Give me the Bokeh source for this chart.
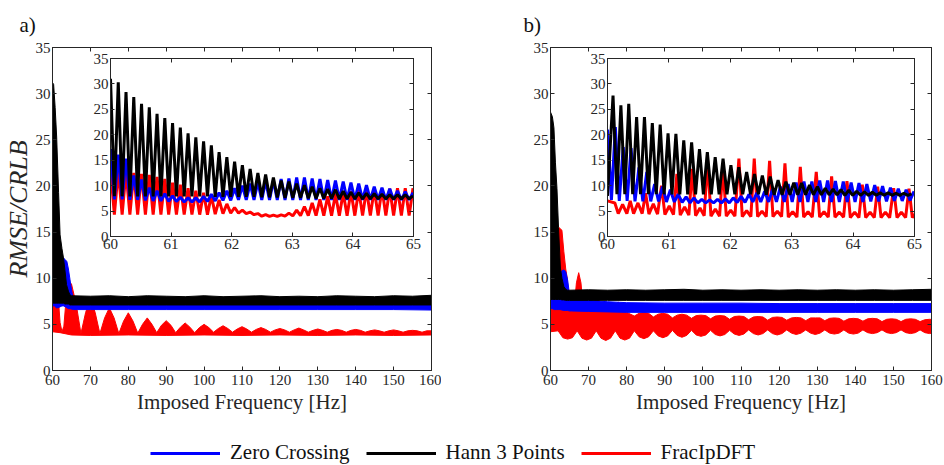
import numpy as np
from bokeh.plotting import figure
from bokeh.models import Range1d, FixedTicker, LinearAxis, Legend, LegendItem
from bokeh.layouts import column, row
from bokeh.embed import file_html
from bokeh.resources import INLINE

FONT = "Liberation Serif"
AX = "#262626"
BLUE, BLACK, RED = "#0000ff", "#000000", "#ff0000"

# ---------------- tick labels ----------------
main_xticks = [60, 70, 80, 90, 100, 110, 120, 130, 140, 150, 160]
yticks = [0, 5, 10, 15, 20, 25, 30, 35]
inset_xticks = [60, 61, 62, 63, 64, 65]
series_names = ["Zero Crossing", "Hann 3 Points", "FracIpDFT"]

# ---------------- panel a) main plot envelopes ----------------
black_a_x = [60.0, 60.3, 60.7, 61.1, 61.6, 62.0, 62.5, 62.9, 63.3, 63.7, 64.2, 64.6, 65.0,
             70, 75, 80, 85, 90, 95, 100, 105, 110, 115, 120, 125, 130, 135, 140, 145, 150, 155, 160]
black_a_hi = [31.2, 31.0, 28.5, 25.3, 19.3, 14.7, 13.2, 12.2, 10.8, 9.3, 8.6, 8.2, 8.1,
              8.05, 8.1, 8.0, 8.1, 8.05, 8.0, 8.1, 8.0, 8.05, 8.1, 8.0, 8.05, 8.0, 8.1, 8.05, 8.0, 8.1, 8.05, 8.15]
black_a_lo = [7.3, 7.3, 7.3, 7.3, 7.3, 7.3, 7.3, 7.3, 7.2, 7.2, 7.2, 7.1, 7.1,
              7.1, 7.1, 7.1, 7.1, 7.1, 7.1, 7.1, 7.1, 7.1, 7.1, 7.1, 7.1, 7.1, 7.1, 7.1, 7.1, 7.1, 7.1, 7.1]

blue_a_x = [60.0, 60.5, 61.0, 61.5, 62.0, 62.5, 62.9, 63.4, 63.8, 64.2, 64.6, 65.1, 65.6, 66.5,
            70, 80, 90, 100, 110, 120, 130, 140, 150, 160]
blue_a_hi = [17.2, 12.0, 8.5, 8.0, 9.5, 11.0, 12.2, 12.0, 11.8, 11.0, 9.9, 8.5, 7.6, 7.4,
             7.35, 7.3, 7.3, 7.3, 7.3, 7.3, 7.3, 7.3, 7.3, 7.35]
blue_a_lo = [7.0, 7.0, 6.8, 6.8, 6.9, 7.0, 7.0, 6.9, 6.8, 6.7, 6.7, 6.65, 6.6, 6.6,
             6.6, 6.6, 6.6, 6.6, 6.6, 6.6, 6.6, 6.6, 6.6, 6.55]

red_a_head_x = [60.0, 60.5, 61.0, 61.5, 62.0, 62.5, 63.0, 63.5, 64.0, 64.5]
red_a_head_hi = [13.3, 12.3, 10.8, 8.0, 5.2, 4.2, 4.8, 7.3, 8.8, 9.3]
red_a_lobe_c = [65, 70, 75, 80, 85, 90, 95, 100, 105, 110, 115, 120, 125, 130, 135, 140, 145, 150, 155, 160]
red_a_lobe_peak = [9.4, 7.8, 6.8, 6.25, 5.7, 5.4, 5.15, 5.0, 4.85, 4.75, 4.65, 4.55, 4.6, 4.5,
                   4.45, 4.45, 4.4, 4.4, 4.35, 4.3]
red_a_lobe_mid = [7.2, 6.3, 5.7, 5.35, 5.0, 4.9, 4.7, 4.65, 4.55, 4.5, 4.45, 4.4, 4.4, 4.35,
                  4.35, 4.35, 4.3, 4.3, 4.3, 4.3]
red_a_lobe_valley = [4.0, 4.0, 4.0, 4.05, 4.1, 4.1, 4.1, 4.15, 4.15, 4.15, 4.15, 4.15, 4.15,
                     4.15, 4.15, 4.15, 4.15, 4.15, 4.15]
red_a_lo_x = [60, 62, 65, 70, 80, 90, 100, 110, 120, 130, 140, 150, 160]
red_a_lo = [4.2, 4.1, 3.85, 3.8, 3.85, 3.8, 3.85, 3.8, 3.85, 3.8, 3.85, 3.8, 3.85]

# ---------------- panel b) main plot envelopes ----------------
black_b_x = [60.0, 60.5, 60.9, 61.3, 61.7, 62.1, 62.6, 63.0, 63.5, 64.0, 64.4, 65.0,
             70, 75, 80, 85, 90, 95, 100, 105, 110, 115, 120, 125, 130, 135, 140, 145, 150, 155, 160]
black_b_hi = [28.0, 27.5, 26.3, 22.5, 19.7, 15.5, 11.1, 10.0, 9.1, 8.8, 8.7, 8.7,
              8.75, 8.7, 8.75, 8.7, 8.75, 8.8, 8.7, 8.75, 8.7, 8.75, 8.7, 8.75, 8.7, 8.75, 8.7, 8.75, 8.7, 8.75, 8.8]
black_b_lo = [7.7, 7.7, 7.7, 7.7, 7.7, 7.7, 7.7, 7.65, 7.65, 7.6, 7.6, 7.6,
              7.6, 7.6, 7.6, 7.6, 7.6, 7.6, 7.6, 7.6, 7.6, 7.6, 7.6, 7.6, 7.6, 7.6, 7.6, 7.6, 7.6, 7.6, 7.6]

blue_b_x = [60, 60.5, 61, 61.5, 62, 62.5, 63, 63.5, 64, 64.5, 65, 65.5, 70, 75, 80, 90, 100,
            110, 120, 130, 140, 150, 160]
blue_b_hi = [21.5, 18.0, 13.0, 9.5, 9.0, 10.3, 10.8, 10.9, 10.7, 9.8, 8.2, 7.8, 7.6, 7.45,
             7.35, 7.3, 7.3, 7.3, 7.25, 7.25, 7.25, 7.25, 7.25]
blue_b_lo = [6.7, 6.7, 6.6, 6.6, 6.6, 6.6, 6.55, 6.5, 6.5, 6.5, 6.45, 6.45, 6.4, 6.35, 6.3,
             6.3, 6.3, 6.3, 6.3, 6.3, 6.3, 6.3, 6.3]

# upper edge of FracIpDFT in b): spikes up to 80 Hz, then rounded bulges every 5 Hz
red_b_hi_head_x = [60.0, 60.5, 61.0, 61.5, 62.2, 63.0, 63.5, 64.0, 64.4, 64.8, 65.5, 66.3, 66.8, 67.4,
                   68.0, 68.5, 69.5, 71.0, 71.8, 72.4, 73.2, 74.5, 76.5, 77.2, 77.8, 78.5, 79.5]
red_b_hi_head = [8.0, 10.0, 12.0, 14.0, 15.5, 15.2, 12.9, 11.0, 10.0, 7.5, 6.6, 7.2, 9.5, 10.6,
                 9.5, 7.2, 6.6, 6.5, 7.8, 8.0, 7.0, 6.5, 6.4, 7.2, 7.4, 6.3, 6.4]
red_b_hi_pinch_x = [82, 87, 92, 97, 102, 107, 112, 117, 122, 127, 132, 137, 142, 147, 152, 157]
red_b_hi_pinch = [5.9, 5.8, 5.7, 5.65, 5.6, 5.55, 5.5, 5.45, 5.45, 5.4, 5.4, 5.35, 5.35, 5.3, 5.3, 5.3]
red_b_hi_shoulder = [6.2, 6.1, 6.0, 5.95, 5.9, 5.85, 5.8, 5.75, 5.7, 5.7, 5.65, 5.6, 5.6, 5.55, 5.55, 5.5]
red_b_hi_bulge = [6.3, 6.2, 6.1, 6.0, 5.95, 5.9, 5.85, 5.8, 5.75, 5.7, 5.7, 5.65, 5.65, 5.6, 5.6, 5.55]
red_b_hi_end = (160.0, 5.5)
# lower edge: narrow pinches and rounded dips every 5 Hz
red_b_lo_pinch_x = [62, 67, 72, 77, 82, 87, 92, 97, 102, 107, 112, 117, 122, 127, 132, 137, 142, 147, 152, 157]
red_b_lo_pinch = [4.3, 4.3, 4.3, 4.3, 4.3, 4.3, 4.35, 4.35, 4.35, 4.35, 4.4, 4.4, 4.4, 4.4, 4.4,
                  4.4, 4.4, 4.4, 4.4, 4.4]
red_b_lo_shoulder = [3.55, 3.5, 3.5, 3.5, 3.65, 3.75, 3.8, 3.85, 3.9, 3.95, 4.0, 4.0, 4.05, 4.05,
                     4.05, 4.05, 4.1, 4.1, 4.1, 4.1]
red_b_lo_dip = [3.4, 3.3, 3.25, 3.3, 3.45, 3.55, 3.6, 3.7, 3.75, 3.8, 3.85, 3.85, 3.9, 3.9,
                3.95, 3.95, 4.0, 4.0, 4.0, 4.0]
red_b_lo_start, red_b_lo_end = 4.2, 4.2
bead_offsets = [1.25, 2.5, 3.75]   # shoulder, extreme, shoulder (Hz after each pinch)

# ---------------- insets: oscillation extrema (60-65 Hz) ----------------
osc_half_period = 0.064   # half of the ~0.128 Hz oscillation period

black_a_pk = [31.0, 30.3, 28.4, 27.4, 26.1, 25.4, 24.1, 23.3, 22.3, 21.4, 20.3, 19.5, 18.7, 17.9,
              16.6, 15.6, 14.7, 14.0, 13.3, 12.5, 12.2, 11.6, 11.0, 10.8, 10.4, 10.1, 9.8, 9.5,
              9.3, 9.2, 8.9, 8.7, 8.6, 8.5, 8.4, 8.3, 8.2, 8.2, 8.2, 8.0]
black_a_tr = [7.9, 7.9, 7.9, 7.9, 7.9, 7.9, 7.9, 7.9, 7.9, 7.9, 7.9, 7.9, 7.9, 7.8, 7.8, 7.8,
              7.8, 7.8, 7.8, 7.7, 7.7, 7.7, 7.6, 7.6, 7.6, 7.5, 7.5, 7.5, 7.5, 7.4, 7.4, 7.4,
              7.4, 7.4, 7.4, 7.4, 7.4, 7.4, 7.4]
blue_a_pk = [17.2, 16.1, 15.3, 12.0, 11.2, 9.6, 9.0, 8.4, 8.0, 7.7, 7.6, 7.6, 7.9, 8.3, 8.6,
             9.0, 9.5, 10.0, 10.4, 10.7, 10.9, 11.0, 11.3, 11.4, 11.6, 11.6, 11.4, 11.3, 11.1,
             11.0, 10.8, 10.6, 10.4, 10.1, 9.8, 9.6, 9.4, 9.0, 8.8, 8.6]
blue_a_tr = [7.3, 7.3, 7.2, 7.2, 7.1, 7.0, 7.0, 6.9, 6.9, 6.8, 6.8, 6.8, 6.9, 7.0, 7.1, 7.1,
             7.2, 7.2, 7.2, 7.2, 7.2, 7.2, 7.2, 7.2, 7.2, 7.2, 7.2, 7.2, 7.2, 7.2, 7.2, 7.2,
             7.2, 7.2, 7.2, 7.2, 7.2, 7.2, 7.2]
red_a_pk = [13.3, 13.0, 12.8, 12.5, 12.3, 12.1, 11.7, 11.3, 10.6, 10.2, 9.5, 9.0, 8.6, 8.0,
            7.2, 6.4, 5.7, 5.2, 4.8, 4.5, 4.3, 4.2, 4.25, 4.6, 5.2, 5.9, 6.6, 7.3, 7.9, 8.3,
            8.6, 8.9, 9.1, 9.2, 9.3, 9.4, 9.4, 9.5, 9.5, 9.5]
red_a_tr = [4.3, 4.3, 4.3, 4.3, 4.3, 4.3, 4.3, 4.3, 4.3, 4.3, 4.3, 4.3, 4.3, 4.4, 4.5, 4.6,
            4.6, 4.5, 4.3, 4.0, 3.95, 3.95, 4.0, 4.05, 4.1, 4.1, 4.1, 4.1, 4.1, 4.1, 4.1, 4.1,
            4.1, 4.1, 4.1, 4.1, 4.1, 4.1, 4.1]

black_b_start = (60.0, 8.0)
black_b_first_peak = 60.09
black_b_pk = [27.7, 25.8, 26.1, 23.5, 23.5, 22.3, 22.0, 20.3, 20.2, 18.9, 18.5, 17.2, 16.6,
              15.6, 15.3, 14.0, 13.6, 12.7, 12.3, 12.0, 11.8, 11.1, 10.8, 10.6, 10.5, 10.1,
              9.8, 9.5, 9.3, 9.2, 9.1, 8.9, 8.8, 8.7, 8.6, 8.6, 8.5, 8.5, 8.4]
black_b_tr = [8.3, 8.3, 8.3, 8.3, 8.3, 8.3, 8.3, 8.3, 8.3, 8.3, 8.3, 8.3, 8.3, 8.3, 8.3, 8.3,
              8.3, 8.3, 8.3, 8.2, 8.2, 8.2, 8.2, 8.2, 8.2, 8.2, 8.2, 8.2, 8.2, 8.1, 8.1, 8.1,
              8.1, 8.1, 8.1, 8.1, 8.1, 8.1]
blue_b_pk = [21.0, 21.5, 17.6, 17.4, 13.6, 12.7, 10.3, 9.8, 9.2, 8.3, 7.8, 7.6, 7.3, 7.2, 7.3,
             7.4, 7.6, 7.9, 8.3, 8.6, 8.9, 9.3, 9.8, 10.3, 10.6, 10.8, 10.8, 11.0, 11.0, 10.9,
             10.8, 10.6, 10.5, 10.3, 10.1, 9.9, 9.6, 9.4, 9.2, 8.9]
blue_b_tr = [7.2, 7.0, 7.0, 6.9, 6.9, 6.9, 6.9, 6.8, 6.8, 6.7, 6.6, 6.6, 6.6, 6.6, 6.6, 6.6,
             6.7, 6.7, 6.8, 6.8, 6.8, 6.8, 6.8, 6.8, 6.8, 6.8, 6.8, 6.8, 6.8, 6.8, 6.8, 6.8,
             6.8, 6.9, 6.9, 6.9, 7.0, 7.0, 7.1]
# FracIpDFT in b): one tall spike per ~0.252 Hz cycle, then a W-shaped floor
red_b_start = (60.0, 7.0)
red_b_peak_x = [60.12, 60.37, 60.62, 60.88, 61.13, 61.38, 61.63, 61.88, 62.14, 62.39, 62.64,
                62.89, 63.14, 63.40, 63.65, 63.90, 64.15, 64.40, 64.66, 64.91]
red_b_pk = [6.6, 7.0, 8.5, 10.0, 12.3, 13.3, 15.0, 13.5, 15.3, 15.3, 14.9, 14.4, 13.7, 12.7,
            11.8, 10.9, 10.2, 9.8, 9.5, 9.4]
red_b_floor = [4.5, 4.5, 4.4, 4.3, 4.2, 4.1, 4.0, 4.0, 3.9, 3.9, 3.9, 3.8, 3.8, 3.8, 3.8, 3.7,
               3.7, 3.7, 3.7, 3.7]
red_b_bump = [6.3, 6.6, 6.4, 6.0, 5.8, 5.6, 5.4, 5.2, 5.1, 5.0, 5.0, 4.9, 4.9, 4.9, 4.8, 4.8,
              4.8, 4.8, 4.8, 4.8]
red_b_shape_offsets = [0.055, 0.126, 0.195]


# ---------------- helpers ----------------
def band(ux, uy, lx, ly):
    return list(ux) + list(lx)[::-1], list(uy) + list(ly)[::-1]


def zigzag(pk, tr):
    out = []
    for i in range(len(tr)):
        out += [pk[i], tr[i]]
    out += pk[len(tr):]
    return out


def grid(x0, n):
    return [x0 + i * osc_half_period for i in range(n)]


def beads(xs, ys, pinch_x, pinch, shoulder, extreme):
    xs, ys = list(xs), list(ys)
    for i, px in enumerate(pinch_x):
        xs += [px, px + bead_offsets[0], px + bead_offsets[1], px + bead_offsets[2]]
        ys += [pinch[i], shoulder[i], extreme[i], shoulder[i]]
    return xs, ys


def style_axis(ax, ticks, labels=True):
    ax.ticker = FixedTicker(ticks=ticks)
    ax.major_tick_in = 4
    ax.major_tick_out = 0
    ax.minor_tick_line_color = None
    ax.axis_line_color = AX
    ax.major_tick_line_color = AX
    ax.major_label_text_font = FONT
    ax.major_label_text_color = AX
    if labels:
        ax.major_label_text_font_size = "15px"
        ax.major_label_standoff = 3
    else:
        ax.major_label_text_font_size = "0px"
        ax.major_label_text_color = None
        ax.major_label_standoff = 0


def make_axes(width, height, xr, yr, xt, borders, **kw):
    left, right, top, bottom = borders
    p = figure(width=width, height=height, x_range=Range1d(*xr), y_range=Range1d(*yr),
               output_backend="svg", toolbar_location=None,
               min_border_left=left, min_border_right=right,
               min_border_top=top, min_border_bottom=bottom, **kw)
    p.grid.visible = False
    xa = p.below[0]
    ya = p.left[0]
    style_axis(xa, xt)
    style_axis(ya, yticks)
    ya.major_label_standoff = 2
    top_ax = LinearAxis()
    style_axis(top_ax, xt, labels=False)
    p.add_layout(top_ax, "above")
    right_ax = LinearAxis()
    style_axis(right_ax, yticks, labels=False)
    p.add_layout(right_ax, "right")
    p.outline_line_color = AX
    return p, xa, ya


def main_panel(width, left_border, right_border, black, blue, red_hi, red_lo, tag, tag_offset):
    p, xa, ya = make_axes(width, 420, (60, 160), (0, 35), main_xticks,
                          (left_border, right_border, 43, 50))
    xa.axis_label = "Imposed Frequency [Hz]"
    xa.axis_label_text_font = FONT
    xa.axis_label_text_font_style = "normal"
    xa.axis_label_text_font_size = "21px"
    xa.axis_label_text_color = AX
    xa.axis_label_standoff = 2
    xa.major_label_standoff = 4
    for (bx, by), col in ((band(*red_hi, *red_lo), RED), (band(*blue), BLUE), (band(*black), BLACK)):
        p.patch(bx, by, fill_color=col, line_color=col, line_width=1)
    p.title.text = tag
    p.title.align = "left"
    p.title.offset = tag_offset
    p.title.standoff = 21
    p.title.text_font = FONT
    p.title.text_font_style = "normal"
    p.title.text_font_size = "21px"
    p.title.text_color = "#111111"
    return p, ya


def inset_panel(width, borders, lines):
    # the column aligns the inset's side borders with the main plot's, so the inset
    # uses the same side borders (transparent) and a matching width
    p, xa, ya = make_axes(width, 208, (60, 65), (0, 35), inset_xticks, borders,
                          border_fill_alpha=0, background_fill_color="white")
    xa.major_label_standoff = 2
    for x, y, col in lines:
        p.line(x, y, color=col, line_width=3)
    return p


# ---------------- build series ----------------
red_a_ux, red_a_uy = list(red_a_head_x), list(red_a_head_hi)
n_lobes = len(red_a_lobe_c)
for k, c in enumerate(red_a_lobe_c):
    if k > 0:
        red_a_ux.append(c - 1.25); red_a_uy.append(red_a_lobe_mid[k])
    red_a_ux.append(c); red_a_uy.append(red_a_lobe_peak[k])
    if k < n_lobes - 1:
        red_a_ux.append(c + 1.25); red_a_uy.append(red_a_lobe_mid[k])
        red_a_ux.append(c + 2.5); red_a_uy.append(red_a_lobe_valley[k])

red_b_ux, red_b_uy = beads(red_b_hi_head_x, red_b_hi_head, red_b_hi_pinch_x, red_b_hi_pinch,
                           red_b_hi_shoulder, red_b_hi_bulge)
red_b_ux.append(red_b_hi_end[0]); red_b_uy.append(red_b_hi_end[1])
red_b_lx, red_b_ly = beads([60.0], [red_b_lo_start], red_b_lo_pinch_x, red_b_lo_pinch,
                           red_b_lo_shoulder, red_b_lo_dip)
red_b_lx.append(160.0); red_b_ly.append(red_b_lo_end)

ya_black = zigzag(black_a_pk, black_a_tr)
ya_blue = zigzag(blue_a_pk, blue_a_tr)
ya_red = zigzag(red_a_pk, red_a_tr)
yb_black = zigzag(black_b_pk, black_b_tr)
yb_blue = zigzag(blue_b_pk, blue_b_tr)

xb_black = [black_b_start[0]] + grid(black_b_first_peak, len(yb_black))
yb_black = [black_b_start[1]] + yb_black

xb_red, yb_red = [red_b_start[0]], [red_b_start[1]]
for j, xc in enumerate(red_b_peak_x):
    xb_red += [xc, xc + red_b_shape_offsets[0], xc + red_b_shape_offsets[1], xc + red_b_shape_offsets[2]]
    yb_red += [red_b_pk[j], red_b_floor[j], red_b_bump[j], red_b_floor[j]]

inset_a_lines = [
    (grid(60.0, len(ya_red)), ya_red, RED),
    (grid(60.0, len(ya_blue)), ya_blue, BLUE),
    (grid(60.0, len(ya_black)), ya_black, BLACK),
]

# ---------------- panel a ----------------
main_a, ya_axis = main_panel(441, 49, 10,
                             (black_a_x, black_a_hi, black_a_x, black_a_lo),
                             (blue_a_x, blue_a_hi, blue_a_x, blue_a_lo),
                             (red_a_ux, red_a_uy), (red_a_lo_x, red_a_lo), "a)", -33)
ya_axis.axis_label = "RMSE/CRLB"
ya_axis.axis_label_text_font = FONT
ya_axis.axis_label_text_font_style = "italic"
ya_axis.axis_label_text_font_size = "26px"
ya_axis.axis_label_text_color = AX
ya_axis.axis_label_standoff = 0
inset_a = inset_panel(49 + 306 + 10, (49, 10, 8, 22), inset_a_lines)
inset_a.margin = (-370, 0, 162, 58)

# ---------------- panel b ----------------
main_b, _ = main_panel(503, 109, 13,
                       (black_b_x, black_b_hi, black_b_x, black_b_lo),
                       (blue_b_x, blue_b_hi, blue_b_x, blue_b_lo),
                       (red_b_ux, red_b_uy), (red_b_lx, red_b_ly), "b)", -27)
inset_b = inset_panel(109 + 307 + 13, (109, 13, 8, 22), [
    (xb_red, yb_red, RED),
    (grid(60.0, len(yb_blue)), yb_blue, BLUE),
    (xb_black, yb_black, BLACK),
])
inset_b.margin = (-370, 0, 162, 57)

# ---------------- legend (its lines reuse the inset data, out of its view) ----------------
leg = figure(width=944, height=45, x_axis_type=None, y_axis_type=None,
             x_range=Range1d(0, 1), y_range=Range1d(0, 1),
             output_backend="svg", toolbar_location=None, min_border=0,
             outline_line_color=None)
leg.grid.visible = False
items = []
for name, (x, y, col) in zip(series_names, [inset_a_lines[1], inset_a_lines[2], inset_a_lines[0]]):
    r = leg.line(x=x, y=y, color=col, line_width=3)
    items.append(LegendItem(label=name, renderers=[r]))
legend = Legend(items=items, orientation="horizontal", location=(150, 0),
                padding=0, margin=0, spacing=16, label_standoff=10,
                glyph_width=70, glyph_height=20, label_height=20,
                label_text_font=FONT, label_text_font_size="21px",
                label_text_color="#111111",
                border_line_color=None, background_fill_alpha=0)
leg.add_layout(legend, "center")

layout = column(row(column(main_a, inset_a), column(main_b, inset_b)), leg)

open("out.html", "w").write(file_html(layout, INLINE))
